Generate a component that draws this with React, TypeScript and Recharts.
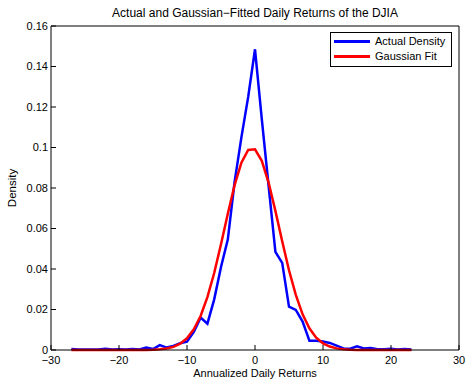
import { LineChart, Line, XAxis, YAxis, Legend } from 'recharts';

// bin centres (annualized daily returns)
const returns = [
  -27, -26, -25, -24, -23, -22, -21, -20, -19, -18, -17, -16, -15, -14, -13, -12, -11,
  -10, -9, -8, -7, -6, -5, -4, -3, -2, -1, 0, 1, 2, 3, 4, 5, 6, 7, 8, 9, 10, 11, 12,
  13, 14, 15, 16, 17, 18, 19, 20, 21, 22, 23,
];

const actualDensity = [
  0.0005, 0.0003, 0.0002, 0.0003, 0.0002, 0.0006, 0.0003, 0.0004, 0.0002, 0.0005, 0.0003,
  0.0012, 0.0005, 0.0024, 0.0012, 0.002, 0.0033, 0.0041, 0.009, 0.016, 0.013, 0.025, 0.041,
  0.0545, 0.083, 0.105, 0.125, 0.1485, 0.114, 0.081, 0.0485, 0.043, 0.0214, 0.0198, 0.014,
  0.0046, 0.0046, 0.0042, 0.0035, 0.0022, 0.0008, 0.0006, 0.0018, 0.0008, 0.001, 0.0004,
  0.0004, 0.0006, 0.0002, 0.0005, 0.0002,
];

const gaussianFit = [
  0, 0, 0, 0, 0, 0, 0, 0, 0, 0, 0, 0.00005, 0.00013, 0.00032, 0.00073, 0.00154, 0.0031,
  0.0058, 0.0102, 0.0168, 0.0261, 0.038, 0.0522, 0.0673, 0.0814, 0.0925, 0.0988, 0.0991,
  0.0934, 0.0827, 0.0687, 0.0537, 0.0394, 0.0272, 0.0176, 0.0107, 0.0061, 0.0033, 0.0017,
  0.0008, 0.00035, 0.00015, 0.00006, 0, 0, 0, 0, 0, 0, 0, 0,
];

const xTicks = [-30, -20, -10, 0, 10, 20, 30];
const yTicks = [0, 0.02, 0.04, 0.06, 0.08, 0.1, 0.12, 0.14, 0.16];

const data = returns.map((r, i) => ({
  r,
  actual: actualDensity[i],
  fit: gaussianFit[i],
}));

const FONT = "'Liberation Sans', Arial, Helvetica, sans-serif";
const minus = (v: number) => String(v).replace('-', '\u2212');

const LegendBox = () => (
  <div
    style={{
      border: '1px solid #000',
      background: '#fff',
      padding: '1px 6px 2px 3px',
      fontFamily: FONT,
      fontSize: 11,
      color: '#000',
      lineHeight: '15px',
    }}
  >
    {[
      { name: 'Actual Density', color: '#0000ff' },
      { name: 'Gaussian Fit', color: '#ff0000' },
    ].map((item) => (
      <div key={item.name} style={{ display: 'flex', alignItems: 'center' }}>
        <span style={{ width: 36, height: 2.5, background: item.color, marginRight: 5 }} />
        <span>{item.name}</span>
      </div>
    ))}
  </div>
);

export default function App() {
  const tickStyle = { fill: '#000', fontSize: 11, fontFamily: FONT };
  return (
    <div style={{ position: 'absolute', left: 0, top: 0, background: '#fff' }}>
      <LineChart
        width={469}
        height={379}
        data={data}
        margin={{ top: 25, right: 9, left: 0, bottom: 0 }}
      >
        <XAxis
          dataKey="r"
          type="number"
          domain={[-30, 30]}
          ticks={xTicks}
          tickFormatter={minus}
          tick={tickStyle}
          tickSize={-5}
          tickMargin={11}
          stroke="#000"
          height={29}
          label={{
            value: 'Annualized Daily Returns',
            position: 'insideBottom',
            offset: 2,
            style: { fill: '#000', fontSize: 11, fontFamily: FONT },
          }}
        />
        <XAxis
          xAxisId="top"
          orientation="top"
          dataKey="r"
          type="number"
          domain={[-30, 30]}
          ticks={xTicks}
          tick={false}
          tickSize={-5}
          stroke="#000"
          height={1}
          label={{
            value: 'Actual and Gaussian\u2212Fitted Daily Returns of the DJIA',
            position: 'top',
            offset: 8,
            style: { fill: '#000', fontSize: 12, fontFamily: FONT },
          }}
        />
        <YAxis
          type="number"
          domain={[0, 0.16]}
          ticks={yTicks}
          tick={tickStyle}
          tickSize={-5}
          tickMargin={8}
          stroke="#000"
          width={51}
          label={{
            value: 'Density',
            angle: -90,
            position: 'insideLeft',
            offset: 12,
            style: { fill: '#000', fontSize: 11.5, fontFamily: FONT, textAnchor: 'middle' },
          }}
        />
        <YAxis
          yAxisId="right"
          orientation="right"
          type="number"
          domain={[0, 0.16]}
          ticks={yTicks}
          tick={false}
          tickSize={-5}
          stroke="#000"
          width={1}
        />
        <Legend
          layout="vertical"
          align="center"
          verticalAlign="middle"
          content={<LegendBox />}
          wrapperStyle={{ top: 32, left: 330, width: 'auto' }}
        />
        <Line
          dataKey="actual"
          name="Actual Density"
          stroke="#0000ff"
          strokeWidth={2.5}
          dot={false}
          isAnimationActive={false}
        />
        <Line
          dataKey="fit"
          name="Gaussian Fit"
          stroke="#ff0000"
          strokeWidth={2.5}
          dot={false}
          isAnimationActive={false}
        />
      </LineChart>
    </div>
  );
}
